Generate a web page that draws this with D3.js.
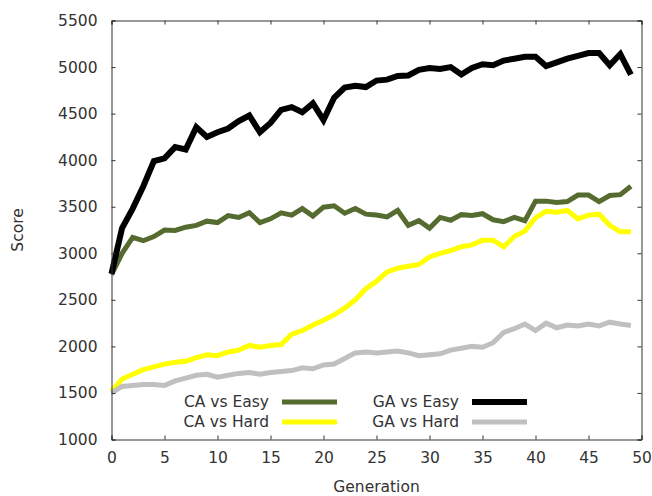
<!DOCTYPE html>
<html>
<head>
<meta charset="utf-8">
<script src="https://cdn.jsdelivr.net/npm/d3@7"></script>
<style>
  body { margin: 0; background: white; }
  text { font-family: "DejaVu Sans", sans-serif; font-size: 15.5px; fill: #333; }
</style>
</head>
<body>
<div id="chart"></div>
<script>
// generation numbers 0..49
var generations = [0,1,2,3,4,5,6,7,8,9,10,11,12,13,14,15,16,17,18,19,20,21,22,23,24,25,26,27,28,29,30,31,32,33,34,35,36,37,38,39,40,41,42,43,44,45,46,47,48,49]

// scores
var caEasy = [2770,3000,3170,3135,3180,3250,3245,3280,3300,3345,3330,3405,3385,3435,3330,3370,3435,3410,3480,3400,
              3495,3510,3430,3480,3420,3410,3390,3460,3300,3350,3270,3385,3355,3415,3405,3425,3360,3340,3385,3350,
              3560,3560,3545,3555,3625,3625,3555,3620,3630,3720]
var caHard = [1520,1650,1700,1750,1780,1810,1830,1840,1880,1910,1900,1940,1960,2010,1990,2010,2020,2130,2170,2230,
              2280,2340,2410,2500,2620,2700,2800,2840,2860,2880,2960,3000,3030,3070,3090,3140,3140,3070,3180,3240,
              3380,3450,3440,3460,3370,3410,3420,3300,3230,3230]
var gaEasy = [2780,3270,3480,3720,3990,4020,4140,4115,4355,4250,4300,4340,4420,4480,4300,4400,4540,4570,4515,4610,
              4430,4670,4780,4800,4785,4855,4865,4905,4910,4970,4990,4980,5000,4920,4990,5030,5020,5070,5090,5110,
              5110,5010,5050,5090,5120,5150,5150,5020,5140,4920]
var gaHard = [1500,1570,1580,1590,1590,1580,1630,1660,1690,1700,1670,1690,1710,1720,1700,1720,1730,1740,1770,1760,
              1800,1810,1870,1930,1940,1930,1940,1950,1930,1900,1910,1920,1960,1980,2000,1990,2040,2150,2190,2240,
              2170,2250,2200,2230,2220,2240,2220,2260,2240,2225]

var seriesNames = ["CA vs Easy", "CA vs Hard", "GA vs Easy", "GA vs Hard"]
var seriesColors = ["#556b2f", "#ffff00", "#000000", "#c0c0c0"]
var seriesWidths = [5, 5, 6, 5]
var seriesData = [caEasy, caHard, gaEasy, gaHard]

var xTicks = [0,5,10,15,20,25,30,35,40,45,50]
var yTicks = [1000,1500,2000,2500,3000,3500,4000,4500,5000,5500]

var margin = {top: 20.5, right: 10.5, bottom: 56.5, left: 111.5}
var W = 652, H = 496

var svg = d3.select("#chart").append("svg")
            .attr("width", W)
            .attr("height", H)

var x = d3.scaleLinear().domain([0,50]).range([margin.left, W - margin.right])
var y = d3.scaleLinear().domain([1000,5500]).range([H - margin.bottom, margin.top])

//lines first so the frame sits on top
var line = d3.line().x(function(d,i){ return x(generations[i]) }).y(function(d){ return y(d) })

seriesData.forEach(function(s, k){
  svg.append("path")
     .datum(s)
     .attr("d", line)
     .style("fill", "none")
     .style("stroke", seriesColors[k])
     .style("stroke-width", seriesWidths[k])
})

//axes with inward ticks on all four sides
var tickLen = 4
svg.append("g")
   .attr("transform", `translate(0,${H - margin.bottom})`)
   .call(d3.axisBottom(x).tickValues(xTicks).tickSize(-tickLen).tickPadding(12).tickFormat(d3.format("d")))
svg.append("g")
   .attr("transform", `translate(0,${margin.top})`)
   .call(d3.axisTop(x).tickValues(xTicks).tickSize(-tickLen).tickFormat(""))
svg.append("g")
   .attr("transform", `translate(${margin.left},0)`)
   .call(d3.axisLeft(y).tickValues(yTicks).tickSize(-tickLen).tickPadding(14).tickFormat(d3.format("d")))
svg.append("g")
   .attr("transform", `translate(${W - margin.right},0)`)
   .call(d3.axisRight(y).tickValues(yTicks).tickSize(-tickLen).tickFormat(""))

svg.selectAll(".domain").style("stroke", "#333")
svg.selectAll(".tick line").style("stroke", "#333")
svg.selectAll(".tick text").style("font-size", "15.5px").style("font-family", "DejaVu Sans").style("fill", "#333")

//axis titles
svg.append("text").text("Generation")
   .attr("x", (margin.left + W - margin.right) / 2)
   .attr("y", 492)
   .attr("text-anchor", "middle")

svg.append("text").text("Score")
   .attr("transform", `translate(23,${(margin.top + H - margin.bottom) / 2}) rotate(-90)`)
   .attr("text-anchor", "middle")

//legend, two columns of two
var legendCols = [{tx: 269, lx1: 282, lx2: 337}, {tx: 459, lx1: 472, lx2: 527}]
var legendRows = [402, 422]
seriesNames.forEach(function(name, k){
  var c = legendCols[Math.floor(k / 2)]
  var r = legendRows[k % 2]
  svg.append("text").text(name)
     .attr("x", c.tx)
     .attr("y", r)
     .attr("dy", "0.35em")
     .attr("text-anchor", "end")
  svg.append("line")
     .attr("x1", c.lx1)
     .attr("x2", c.lx2)
     .attr("y1", r)
     .attr("y2", r)
     .style("stroke", seriesColors[k])
     .style("stroke-width", seriesWidths[k])
})
</script>
</body>
</html>
